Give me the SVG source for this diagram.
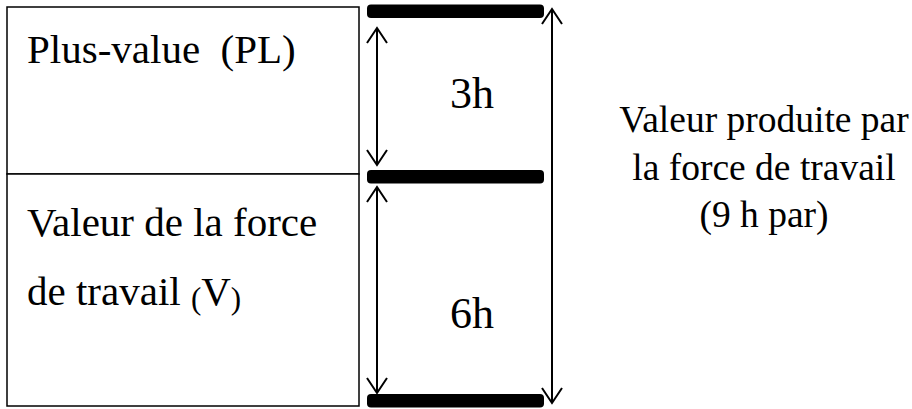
<svg xmlns="http://www.w3.org/2000/svg" width="912" height="409" viewBox="0 0 912 409">
  <style>
    .box { fill: #ffffff; stroke: #000000; stroke-width: 1.5; }
    .bar { fill: #000000; }
    .dim { stroke: #000000; stroke-width: 2; fill: none; marker-start: url(#head); marker-end: url(#head); }
    .lbl { font-size: 41px; fill: #000000; }
    .num { font-size: 44px; fill: #000000; text-anchor: middle; }
    .side { font-size: 37.5px; fill: #000000; text-anchor: middle; }
    .small { font-size: 31px; }
  </style>
  <defs>
    <marker id="head" viewBox="-17 -12 19 24" refX="0" refY="0" markerWidth="19" markerHeight="24" markerUnits="userSpaceOnUse" orient="auto-start-reverse">
      <path d="M-15,-10 L0,0 L-15,10" fill="none" stroke="#000000" stroke-width="2"/>
    </marker>
  </defs>
  <rect width="912" height="409" fill="#ffffff"/>

  <g font-family="'Liberation Serif', 'Times New Roman', serif">
    <!-- stacked value boxes -->
    <g id="plus-value">
      <rect class="box" x="7" y="7" width="352" height="167"/>
      <text class="lbl" x="27" y="63" xml:space="preserve">Plus-value  (PL)</text>
    </g>
    <g id="valeur-force">
      <rect class="box" x="7" y="174" width="352" height="232"/>
      <text class="lbl" x="27" y="236">Valeur de la force</text>
      <text class="lbl" x="27" y="305">de travail <tspan class="small" dy="4">(</tspan><tspan dy="-4">V</tspan><tspan class="small" dy="4">)</tspan></text>
    </g>

    <!-- time markers -->
    <g id="bars">
      <rect class="bar" x="367" y="4.5" width="177" height="13.5" rx="4"/>
      <rect class="bar" x="367" y="170" width="177" height="13.5" rx="4"/>
      <rect class="bar" x="367" y="394" width="177" height="13.5" rx="4"/>
    </g>

    <g id="duree-3h">
      <text class="num" x="472" y="108">3h</text>
    </g>
    <g id="duree-6h">
      <text class="num" x="472" y="328">6h</text>
    </g>

    <g id="valeur-produite">
      <text class="side" x="764" y="132">Valeur produite par</text>
      <text class="side" x="764" y="180">la force de travail</text>
      <text class="side" x="764" y="227">(9 h par)</text>
    </g>

    <!-- dimension arrows -->
    <g id="connectors">
      <line class="dim" x1="377" y1="28" x2="377" y2="165"/>
      <line class="dim" x1="377" y1="187" x2="377" y2="393"/>
      <line class="dim" x1="552" y1="9" x2="552" y2="403"/>
    </g>
  </g>
</svg>
